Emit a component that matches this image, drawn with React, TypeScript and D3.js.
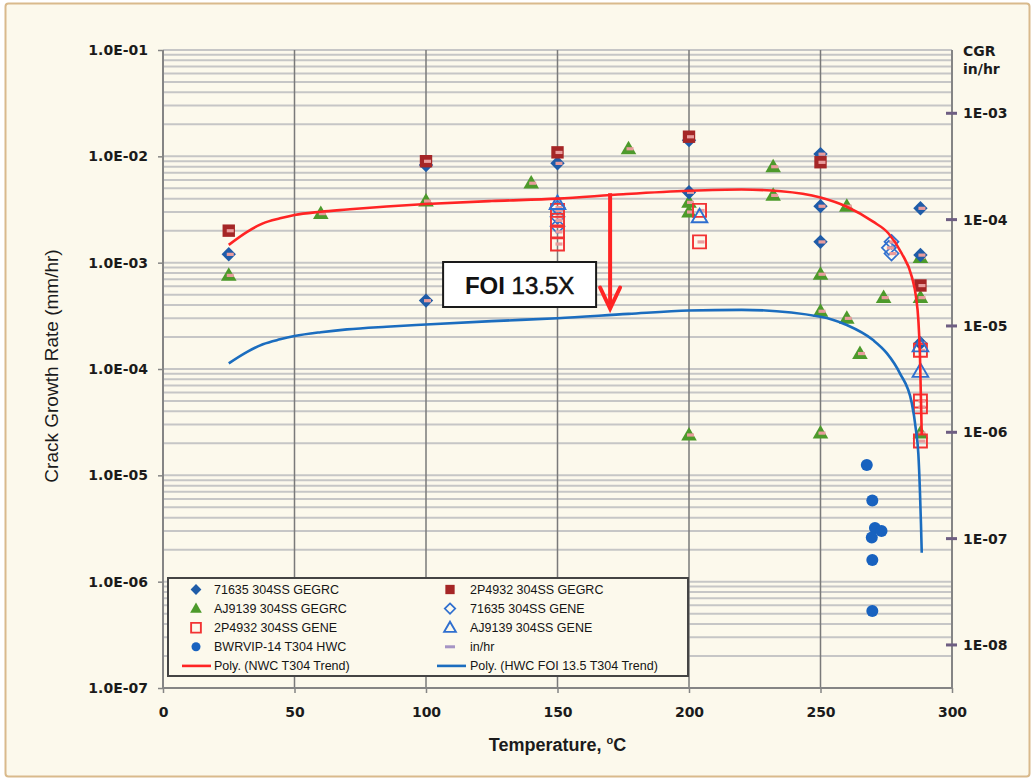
import * as d3 from 'd3';
import React, { useRef, useEffect } from 'react';

type Pt = [number, number]; // [temperature °C, crack growth rate mm/hr]

// ---- data ----
const gegrc71635: Pt[] = [
  [25, 1.2e-3], [100, 4.4e-4], [100, 8.3e-3], [150, 8.6e-3], [200, 1.42e-2], [200, 4.6e-3],
  [250, 1.05e-2], [250, 3.4e-3], [250, 1.57e-3], [288, 3.25e-3], [288, 1.18e-3], [288, 1.75e-4],
];
const gegrc2P4932: Pt[] = [
  [25, 2.0e-3], [100, 9.0e-3], [150, 1.09e-2], [200, 1.53e-2], [250, 8.8e-3], [288, 6.1e-4],
];
const gegrcAJ9139: Pt[] = [
  [25, 7.6e-4], [60, 2.9e-3], [100, 3.8e-3], [140, 5.6e-3], [177, 1.18e-2], [200, 3.7e-3],
  [200, 3.0e-3], [200, 2.4e-5], [232, 8.0e-3], [232, 4.3e-3], [260, 3.4e-3], [250, 7.8e-4],
  [250, 3.5e-4], [260, 3.0e-4], [265, 1.4e-4], [274, 4.7e-4], [250, 2.5e-5], [288, 1.12e-3],
  [288, 4.7e-4], [288, 2.5e-5],
];
const gene2P4932: Pt[] = [
  [150, 3.1e-3], [150, 2.5e-3], [150, 1.95e-3], [150, 1.5e-3], [204, 3.1e-3], [204, 1.57e-3],
  [288, 1.5e-4], [288, 5.0e-5], [288, 4.4e-5], [288, 2.1e-5],
];
const gene71635: Pt[] = [
  [150, 3.3e-3], [150, 2.7e-3], [150, 2.2e-3], [277, 1.57e-3], [276, 1.38e-3], [277, 1.22e-3],
];
const geneAJ9139: Pt[] = [[150, 3.6e-3], [204, 2.7e-3], [288, 1.65e-4], [288, 9.5e-5]];
const hwcBWRVIP: Pt[] = [
  [267.6, 1.25e-5], [269.7, 5.8e-6], [270.7, 3.2e-6], [273.2, 3.0e-6], [269.5, 2.6e-6],
  [269.7, 1.6e-6], [269.7, 5.3e-7],
];
// in/hr marks on secondary axis
const inHrTicks = [1e-3, 1e-4, 1e-5, 1e-6, 1e-7, 1e-8];
const inHrT = 300;

// trend lines
const nwcTrendT = [25, 32, 38, 44.5, 50, 60, 70, 85, 100, 125, 150, 175, 200, 220, 235, 250, 260, 270, 275.8, 280.9, 284.7, 286.3, 287.2, 287.8, 288.5];
const nwcTrend = [1.47e-3, 1.95e-3, 2.34e-3, 2.61e-3, 2.81e-3, 3.01e-3, 3.16e-3, 3.38e-3, 3.56e-3, 3.8e-3, 4.0e-3, 4.4e-3, 4.74e-3, 4.87e-3, 4.7e-3, 4.1e-3, 3.36e-3, 2.43e-3, 1.89e-3, 1.22e-3, 7.4e-4, 4.8e-4, 2.9e-4, 1.4e-4, 2.4e-5];
const hwcTrendT = [25, 32, 38, 44.5, 50, 60, 70, 85, 100, 125, 150, 177, 200, 220, 250, 260, 270, 275.2, 280.2, 284.7, 286.3, 287.2, 287.8, 288.2, 288.5];
const hwcTrend = [1.13e-4, 1.45e-4, 1.71e-4, 1.9e-4, 2.04e-4, 2.22e-4, 2.36e-4, 2.5e-4, 2.62e-4, 2.82e-4, 3.0e-4, 3.3e-4, 3.55e-4, 3.6e-4, 3.1e-4, 2.59e-4, 1.87e-4, 1.41e-4, 9.1e-5, 4.8e-5, 2.66e-5, 1.6e-5, 7.2e-6, 3.5e-6, 1.87e-6];

const foiArrow = { t: 170, from: 4.5e-3, to: 3.4e-4, label: 'FOI', factor: '13.5X' };

const xTicks = [0, 50, 100, 150, 200, 250, 300];
const yTicks = [1e-7, 1e-6, 1e-5, 1e-4, 1e-3, 1e-2, 1e-1];

const W = 1034;
const H = 780;

const C = {
  bg: '#FCF9EC',
  frame: '#D9BA8C',
  blue: '#1F5CA8',
  dkred: '#A52626',
  green: '#4D9A2B',
  red: '#F23333',
  openBlue: '#2F6FCF',
  circle: '#1862BF',
  pink: '#E99C9C',
  purple: '#6E5E82',
  redLine: '#FF2424',
  blueLine: '#1B6DBF',
};

type Kind = 'diamond' | 'square' | 'triangle' | 'oSquare' | 'oDiamond' | 'oTriangle' | 'circle' | 'dash' | 'redLine' | 'blueLine';

const markerPath = (k: Kind, s = 1): string => {
  if (k === 'diamond') { const r = 7.2 * s; return `M0,${-r}L${r},0L0,${r}L${-r},0Z`; }
  if (k === 'oDiamond') { const r = 7 * s; return `M0,${-r}L${r},0L0,${r}L${-r},0Z`; }
  if (k === 'square') { const r = 6.2 * s; return `M${-r},${-r}H${r}V${r}H${-r}Z`; }
  if (k === 'oSquare') { const r = 6.5 * s; return `M${-r},${-r}H${r}V${r}H${-r}Z`; }
  if (k === 'triangle' || k === 'oTriangle') { const w = 7.8 * s; return `M0,${-8 * s}L${w},${5.5 * s}L${-w},${5.5 * s}Z`; }
  if (k === 'circle') { const r = 6 * s; return `M${r},0A${r},${r} 0 1,1 ${-r},0A${r},${r} 0 1,1 ${r},0Z`; }
  return '';
};

const markerStyle = (k: Kind) => {
  switch (k) {
    case 'diamond': return { fill: C.blue, stroke: 'none', sw: 0 };
    case 'square': return { fill: C.dkred, stroke: 'none', sw: 0 };
    case 'triangle': return { fill: C.green, stroke: 'none', sw: 0 };
    case 'oSquare': return { fill: 'none', stroke: C.red, sw: 1.9 };
    case 'oDiamond': return { fill: 'none', stroke: C.openBlue, sw: 1.7 };
    case 'oTriangle': return { fill: 'none', stroke: C.openBlue, sw: 1.9 };
    case 'circle': return { fill: C.circle, stroke: 'none', sw: 0 };
    default: return { fill: 'none', stroke: 'none', sw: 0 };
  }
};

const legendItems: { label: string; kind: Kind }[] = [
  { label: '71635 304SS GEGRC', kind: 'diamond' },
  { label: '2P4932 304SS GEGRC', kind: 'square' },
  { label: 'AJ9139 304SS GEGRC', kind: 'triangle' },
  { label: '71635 304SS GENE', kind: 'oDiamond' },
  { label: '2P4932 304SS GENE', kind: 'oSquare' },
  { label: 'AJ9139 304SS GENE', kind: 'oTriangle' },
  { label: 'BWRVIP-14 T304 HWC', kind: 'circle' },
  { label: 'in/hr', kind: 'dash' },
  { label: 'Poly. (NWC T304 Trend)', kind: 'redLine' },
  { label: 'Poly. (HWC FOI 13.5 T304 Trend)', kind: 'blueLine' },
];

const fmtE = (v: number) => {
  const e = Math.round(Math.log10(v));
  const sign = e < 0 ? '-' : '+';
  return `1.0E${sign}${String(Math.abs(e)).padStart(2, '0')}`;
};
const fmtIn = (v: number) => {
  const e = Math.round(Math.log10(v));
  return `1E-${String(Math.abs(e)).padStart(2, '0')}`;
};

const App: React.FC = () => {
  const svgRef = useRef<SVGSVGElement | null>(null);

  useEffect(() => {
    document.body.style.margin = '0';
    const svg = d3.select(svgRef.current).attr('width', W).attr('height', H);
    svg.selectAll('*').remove();

    const l = 163, r = 952, t = 50, b = 688;
    const x = d3.scaleLinear().domain([0, 300]).range([l, r]);
    const y = d3.scaleLog().domain([1e-7, 1e-1]).range([b, t]);
    const y2 = d3.scaleLog().domain([1e-7 / 25.4, 1e-1 / 25.4]).range([b, t]);

    // background + frame
    svg.append('rect').attr('width', W).attr('height', H).attr('fill', '#fff');
    svg.append('rect')
      .attr('x', 5.5).attr('y', 3.5).attr('width', W - 10).attr('height', H - 7)
      .attr('rx', 3)
      .attr('fill', C.bg).attr('stroke', C.frame).attr('stroke-width', 2);

    const g = svg.append('g');

    // horizontal grid (major + minor)
    const gridVals: number[] = [];
    for (let k = -7; k < -1; k++) for (let m = 1; m <= 9; m++) gridVals.push(m * Math.pow(10, k));
    gridVals.push(1e-1);
    g.append('g').selectAll('line').data(gridVals).join('line')
      .attr('x1', l).attr('x2', r)
      .attr('y1', (d) => y(d)).attr('y2', (d) => y(d))
      .attr('stroke', '#C6C6C6').attr('stroke-width', 2);

    // vertical grid
    g.append('g').selectAll('line').data(xTicks.slice(1, -1)).join('line')
      .attr('x1', (d) => x(d)).attr('x2', (d) => x(d))
      .attr('y1', t).attr('y2', b)
      .attr('stroke', '#7A7A7A').attr('stroke-width', 1.5);

    // axes lines
    const axisCol = '#858585';
    g.append('line').attr('x1', l).attr('x2', l).attr('y1', t).attr('y2', b).attr('stroke', axisCol).attr('stroke-width', 2);
    g.append('line').attr('x1', r).attr('x2', r).attr('y1', t).attr('y2', b).attr('stroke', axisCol).attr('stroke-width', 2);
    g.append('line').attr('x1', l).attr('x2', r).attr('y1', b).attr('y2', b).attr('stroke', axisCol).attr('stroke-width', 2);

    // bottom axis
    const xAxis = g.append('g').attr('transform', `translate(0,${b})`)
      .call(d3.axisBottom(x).tickValues(xTicks).tickSize(5).tickPadding(14).tickFormat((d) => String(d)));
    xAxis.select('.domain').remove();
    xAxis.selectAll('line').attr('stroke', axisCol).attr('stroke-width', 1.5);
    xAxis.selectAll('text')
      .attr('font-family', '"DejaVu Sans", sans-serif').attr('font-weight', 'bold')
      .attr('font-size', 14).attr('fill', '#1b1b1b');

    // left axis
    const yAxis = g.append('g').attr('transform', `translate(${l},0)`)
      .call(d3.axisLeft(y).tickValues(yTicks).tickSize(5).tickPadding(10).tickFormat((d) => fmtE(+d)));
    yAxis.select('.domain').remove();
    yAxis.selectAll('line').attr('stroke', axisCol).attr('stroke-width', 1.5);
    yAxis.selectAll('text')
      .attr('font-family', '"DejaVu Sans", sans-serif').attr('font-weight', 'bold')
      .attr('font-size', 14).attr('fill', '#1b1b1b');

    // right axis labels (in/hr)
    const rAxis = g.append('g').attr('transform', `translate(${r},0)`)
      .call(d3.axisRight(y2).tickValues(inHrTicks).tickSize(0).tickPadding(11).tickFormat((d) => fmtIn(+d)));
    rAxis.select('.domain').remove();
    rAxis.selectAll('text')
      .attr('font-family', '"DejaVu Sans", sans-serif').attr('font-weight', 'bold')
      .attr('font-size', 14).attr('fill', '#1b1b1b');

    // titles
    svg.append('text')
      .attr('transform', `translate(58,${(t + b) / 2 - 3}) rotate(-90)`)
      .attr('text-anchor', 'middle')
      .attr('font-family', '"Liberation Sans Narrow", "Liberation Sans", Arial, sans-serif')
      .attr('font-size', 19).attr('fill', '#1b1b1b')
      .text('Crack Growth Rate (mm/hr)');
    const xt = svg.append('text')
      .attr('x', (l + r) / 2).attr('y', 751).attr('text-anchor', 'middle')
      .attr('font-family', '"Liberation Sans", Arial, sans-serif').attr('font-weight', 'bold')
      .attr('font-size', 18).attr('fill', '#1b1b1b');
    xt.append('tspan').text('Temperature, ');
    xt.append('tspan').attr('font-size', 11).attr('dy', -7).text('o');
    xt.append('tspan').attr('dy', 7).text('C');
    const cgr = svg.append('text')
      .attr('font-family', '"DejaVu Sans", sans-serif').attr('font-weight', 'bold')
      .attr('font-size', 14).attr('fill', '#1b1b1b');
    cgr.append('tspan').attr('x', 963).attr('y', 56).text('CGR');
    cgr.append('tspan').attr('x', 963).attr('y', 74).text('in/hr');

    // markers
    const drawSeries = (data: Pt[], kind: Kind, pinkMark: boolean) => {
      const st = markerStyle(kind);
      const sg = g.append('g');
      sg.selectAll('path').data(data).join('path')
        .attr('transform', (d) => `translate(${x(d[0])},${y(d[1])})`)
        .attr('d', markerPath(kind))
        .attr('fill', st.fill).attr('stroke', st.stroke).attr('stroke-width', st.sw);
      if (pinkMark) {
        sg.selectAll('rect').data(data).join('rect')
          .attr('x', (d) => x(d[0]) - 2).attr('y', (d) => y(d[1]) - 1.5)
          .attr('width', 7).attr('height', 3.2)
          .attr('fill', C.pink);
      }
    };
    drawSeries(gegrcAJ9139, 'triangle', true);
    drawSeries(gegrc71635, 'diamond', true);
    drawSeries(gegrc2P4932, 'square', true);
    drawSeries(gene71635, 'oDiamond', true);
    drawSeries(gene2P4932, 'oSquare', true);
    drawSeries(geneAJ9139, 'oTriangle', false);
    drawSeries(hwcBWRVIP, 'circle', false);

    // in/hr marks on right axis
    g.append('g').selectAll('rect').data(inHrTicks).join('rect')
      .attr('x', x(inHrT) - 6).attr('y', (d) => y2(d) - 1.5)
      .attr('width', 11).attr('height', 3)
      .attr('fill', C.purple);

    // trend lines
    const line = d3.line<number>()
      .x((d) => x(d))
      .curve(d3.curveMonotoneX);
    g.append('path')
      .attr('d', line.y((_, i) => y(nwcTrend[i]))(nwcTrendT))
      .attr('fill', 'none').attr('stroke', C.redLine).attr('stroke-width', 2.6);
    g.append('path')
      .attr('d', line.y((_, i) => y(hwcTrend[i]))(hwcTrendT))
      .attr('fill', 'none').attr('stroke', C.blueLine).attr('stroke-width', 2.6);

    // FOI arrow + box
    const ax = x(foiArrow.t);
    const ay0 = y(foiArrow.from);
    const ay1 = y(foiArrow.to) - 4;
    g.append('line').attr('x1', ax).attr('x2', ax).attr('y1', ay0).attr('y2', ay1 - 1)
      .attr('stroke', C.redLine).attr('stroke-width', 4);
    g.append('path')
      .attr('d', `M${ax - 10},${ay1 - 21}L${ax},${ay1}L${ax + 10},${ay1 - 21}`)
      .attr('fill', 'none').attr('stroke', C.redLine).attr('stroke-width', 4)
      .attr('stroke-linejoin', 'miter').attr('stroke-linecap', 'round');

    const bx1 = ax - 167, bx2 = ax - 14, by1 = 262, by2 = 307;
    g.append('rect').attr('x', bx1).attr('y', by1).attr('width', bx2 - bx1).attr('height', by2 - by1)
      .attr('fill', '#fff').attr('stroke', '#1a1a1a').attr('stroke-width', 2);
    const ft = g.append('text').attr('x', (bx1 + bx2) / 2).attr('y', 294)
      .attr('text-anchor', 'middle')
      .attr('font-family', '"Liberation Sans", Arial, sans-serif')
      .attr('font-size', 24).attr('fill', '#111');
    ft.append('tspan').attr('font-weight', 'bold').text(foiArrow.label + ' ');
    ft.append('tspan').attr('stroke', '#111').attr('stroke-width', 0.5).text(foiArrow.factor);

    // legend
    const lg = svg.append('g');
    lg.append('rect').attr('x', 168).attr('y', 578).attr('width', 520).attr('height', 98)
      .attr('fill', C.bg).attr('stroke', '#444').attr('stroke-width', 2);
    legendItems.forEach((it, i) => {
      const col = i % 2;
      const row = Math.floor(i / 2);
      const cy = 589.5 + row * 19.1;
      const mx = col === 0 ? 196 : 450;
      const tx = col === 0 ? 214 : 470;
      if (it.kind === 'redLine' || it.kind === 'blueLine') {
        const x1 = col === 0 ? 182 : 437;
        lg.append('line').attr('x1', x1).attr('x2', x1 + 29).attr('y1', cy).attr('y2', cy)
          .attr('stroke', it.kind === 'redLine' ? C.redLine : C.blueLine).attr('stroke-width', 2.6);
      } else if (it.kind === 'dash') {
        lg.append('rect').attr('x', mx - 5).attr('y', cy - 1.5).attr('width', 10).attr('height', 3)
          .attr('fill', '#A594C4');
      } else {
        const st = markerStyle(it.kind);
        lg.append('path').attr('transform', `translate(${mx},${cy})`)
          .attr('d', markerPath(it.kind, 0.75))
          .attr('fill', st.fill).attr('stroke', st.stroke).attr('stroke-width', st.sw);
      }
      lg.append('text').attr('x', tx).attr('y', cy + 4.5)
        .attr('font-family', '"Liberation Sans", Arial, sans-serif')
        .attr('font-size', 12.5).attr('fill', '#151515')
        .text(it.label);
    });
  }, []);

  return <svg ref={svgRef} style={{ display: 'block' }}></svg>;
};

export default App;
